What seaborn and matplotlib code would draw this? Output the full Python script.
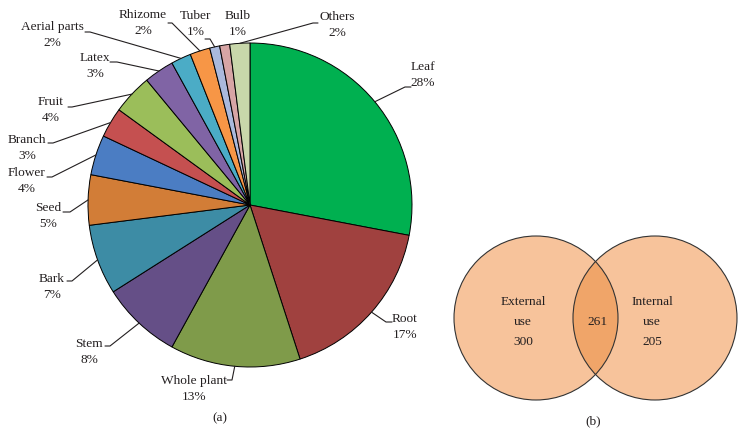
"""
Plant parts used (pie) and route of administration (Venn).
"""

import numpy as np
import matplotlib.pyplot as plt
from matplotlib.patches import Circle
import seaborn as sns

# data
parts = ['Leaf', 'Root', 'Whole plant', 'Stem', 'Bark', 'Seed', 'Flower',
         'Branch', 'Fruit', 'Latex', 'Aerial parts', 'Rhizome', 'Tuber',
         'Bulb', 'Others']
percents = [28, 17, 13, 8, 7, 5, 4, 3, 4, 3, 2, 2, 1, 1, 2]
part_colors = ['#00B050', '#A0413F', '#7F9B4A', '#654F87', '#3D8CA5',
               '#D27D37', '#4B7DC3', '#C55050', '#9BBE5A', '#8064A5',
               '#4BACC6', '#F79646', '#AAB9DC', '#D7A5A5', '#C8D7AA']

venn_names = ['External\nuse', 'Internal\nuse']
venn_only = [300, 205]
venn_shared = 261

W, H = 746, 445

# label layout in pixel coords (y from top): text centre, elbow, tick end
label_pos = {
    'Leaf': (423, 75, 405, 87, 411),
    'Root': (405, 327, 386, 322, 392),
    'Whole plant': (194, 389, 232, 380, 227),
    'Stem': (89, 352, 110, 346, 105),
    'Bark': (52, 287, 72, 281, 67),
    'Seed': (48, 216, 70, 212, 63),
    'Flower': (27, 181, 52, 177, 47),
    'Branch': (27, 148, 53, 143, 48),
    'Fruit': (51, 110, 72, 107, 68),
    'Latex': (95, 66, 117, 62, 110),
    'Aerial parts': (52, 35, 90, 32, 85),
    'Rhizome': (143, 23, 172, 23, 168),
    'Tuber': (196, 24, 210, 39, 205),
    'Bulb': (238, 24, None, None, None),
    'Others': (337, 25, 313, 23, 318),
}


def py(y):
    # flip pixel y (top origin) into axis coords
    return H - y


sns.set_style("white")
plt.rcParams['font.family'] = ['Liberation Serif', 'DejaVu Serif']
FS = 9.6
TXT = '#231F20'

fig = plt.figure(figsize=(W / 100, H / 100), dpi=100)
ax = fig.add_axes([0, 0, 1, 1])

cx, cy, r = 250, py(205), 162
wedges, _ = ax.pie(percents, colors=sns.color_palette(part_colors),
                   startangle=90, counterclock=False, center=(cx, cy),
                   radius=r, wedgeprops=dict(edgecolor='black', linewidth=0.7))

for w, name, pct in zip(wedges, parts, percents):
    tx, ty, ex, ey, hx = label_pos[name]
    ax.text(tx, py(ty), f"{name}\n{pct}%", ha='center', va='center',
            fontsize=FS, linespacing=1.45, color=TXT)
    if ex is None:
        continue
    ang = np.deg2rad((w.theta1 + w.theta2) / 2)
    sx, sy = cx + r * np.cos(ang), cy + r * np.sin(ang)
    ax.plot([sx, ex, hx], [sy, py(ey), py(ey)], color=TXT, lw=0.8)

# venn diagram
left = Circle((536, py(318)), 82, facecolor='#F7C39B', edgecolor='none')
right = Circle((655, py(318)), 82, facecolor='#F7C39B', edgecolor='none')
ax.add_patch(left)
ax.add_patch(right)
inter = Circle((655, py(318)), 82, facecolor='#F0A569', edgecolor='none')
ax.add_patch(inter)
inter.set_clip_path(left)
for c in [(536, py(318)), (655, py(318))]:
    ax.add_patch(Circle(c, 82, facecolor='none', edgecolor='#333333', lw=0.8))

ax.text(523, py(322), f"{venn_names[0]}\n{venn_only[0]}", ha='center',
        va='center', fontsize=FS, linespacing=1.85, color=TXT)
ax.text(652, py(322), f"{venn_names[1]}\n{venn_only[1]}", ha='center',
        va='center', fontsize=FS, linespacing=1.85, color=TXT)
ax.text(597, py(322), str(venn_shared), ha='center', va='center',
        fontsize=FS, color=TXT)

ax.text(220, py(418), '(a)', ha='center', va='center', fontsize=FS, color=TXT)
ax.text(593, py(421), '(b)', ha='center', va='center', fontsize=FS, color=TXT)

ax.set_xlim(0, W)
ax.set_ylim(0, H)
ax.set_aspect('equal')
ax.axis('off')

fig.savefig('out.png', dpi=100)
